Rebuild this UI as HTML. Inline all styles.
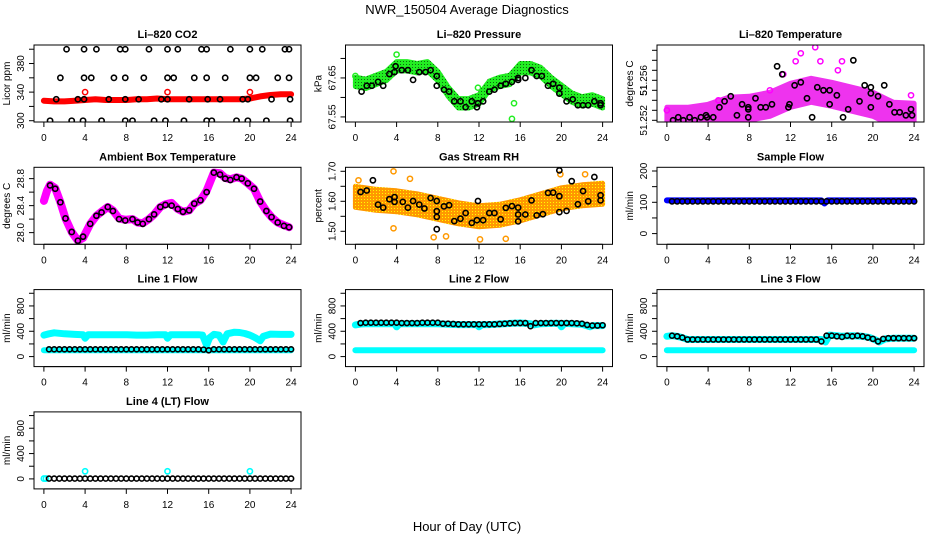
<!DOCTYPE html>
<html><head><meta charset="utf-8">
<style>
html,body{margin:0;padding:0;background:#fff;}
svg{display:block;font-family:"Liberation Sans",Arial,sans-serif;}
</style></head>
<body>
<svg id="chart" width="936" height="540" viewBox="0 0 936 540" xmlns="http://www.w3.org/2000/svg">
<defs>
<pattern id="rhpat" width="3" height="3" patternUnits="userSpaceOnUse"><rect width="3" height="3" fill="#ff9900"/><rect x="1" y="1" width="1" height="1" fill="#ffff00"/></pattern>
<pattern id="grpat" width="3" height="3" patternUnits="userSpaceOnUse"><rect width="3" height="3" fill="#22ee22"/><rect x="1" y="1" width="1" height="1" fill="#116611"/></pattern>
</defs>
<text x="467" y="14" font-size="13" text-anchor="middle">NWR_150504  Average Diagnostics</text>
<text x="467" y="531" font-size="13" text-anchor="middle">Hour of Day (UTC)</text>
</svg>
<script>
// ---- shared x data ----
const H48 = [0.5,1,1.5,2,2.5,3,3.5,4,4.5,5,5.5,6,6.5,7,7.5,8,8.5,9,9.5,10,10.5,11,11.5,12,12.5,13,13.5,14,14.5,15,15.5,16,16.5,17,17.5,18,18.5,19,19.5,20,20.5,21,21.5,22,22.5,23,23.5,24];
const xTicks = [0,4,8,12,16,20,24];

// ---- CO2 ----
const co2BandX = [0,1,2,3,4,5,6,7,8,9,10,11,12,13,14,15,16,17,18,19,20,21,22,23,24];
const co2BandY = [328,327,327,328,329,330,329,329,329,330,330,331,330,330,330,330,330,330,330,330,331,334,336,337,337];
const co2RedX = [4,12,20];
const co2RedY = [340,340,340];
const co2BlkX = [2.2,3.9,5.1,7.4,7.9,10.2,12,13,15.3,15.8,18.1,20,21.2,23.4,23.8, 1.6,3.9,4.6,6.8,7.9,9.7,12,12.6,14.6,15.8,17.6,20,20.6,22.7,23.8, 1.2,3.3,3.9,6.3,7.9,9.2,11.4,12,14.1,15.9,17.1,19.3,19.8,22.1,23.9, 0.6,2.7,3.8,5.6,7.9,8.6,10.7,11.8,13.6,15.8,16.3,18.7,19.8,21.6,23.9];
const co2BlkY = [400,400,400,400,400,400,400,400,400,400,400,400,400,400,400, 360,360,360,360,360,360,360,360,360,360,360,360,360,360,360, 330,330,330,330,330,330,330,330,330,330,330,330,330,330,330, 300,300,300,300,300,300,300,300,300,300,300,300,300,300,300];

// ---- Pressure ----
const prBandX = [0,1,2,3,4,5,6,7,8,9,10,11,12,13,14,15,16,17,18,19,20,21,22,23,24];
const prBandY = [67.64,67.635,67.645,67.655,67.68,67.68,67.675,67.68,67.655,67.615,67.585,67.585,67.595,67.63,67.64,67.645,67.675,67.675,67.665,67.64,67.62,67.6,67.59,67.595,67.585];
const prGrnX = [0,4,15.2,15.4,11.9];
const prGrnY = [67.655,67.71,67.545,67.585,67.625];
const prBlkX = [0.6,1.1,1.6,2.2,2.7,3.3,3.8,3.9,4.5,5.1,5.6,6.2,6.8,7.3,7.9,7.9,8.6,9.1,9.6,10.2,10.7,11.3,11.8,11.9,12.4,13,13.5,14.1,14.6,15.2,15.8,15.8,16.5,17.1,17.6,18.1,18.7,19.2,19.8,19.8,20.5,21.1,21.6,22.1,22.6,23.2,23.8,23.8];
const prBlkY = [67.615,67.63,67.63,67.64,67.63,67.66,67.665,67.68,67.67,67.67,67.645,67.665,67.665,67.67,67.655,67.63,67.62,67.615,67.59,67.59,67.575,67.59,67.575,67.585,67.59,67.615,67.62,67.63,67.635,67.64,67.645,67.65,67.65,67.67,67.655,67.655,67.63,67.635,67.625,67.61,67.59,67.595,67.58,67.58,67.58,67.59,67.585,67.58];

// ---- Li-820 temperature ----
const ltBandX = [0,2,4,6,8,10,12,14,16,18,20,22,24];
const ltBandY = [51.2521,51.2521,51.2524,51.2531,51.2532,51.2536,51.2545,51.2550,51.2546,51.2541,51.2536,51.2526,51.2525];
const ltMagX = [0,14.4,13,12.5,14.9,17,16.6,11.3,23.7,5,10];
const ltMagY = [51.2530,51.2593,51.2587,51.2579,51.2579,51.2579,51.2570,51.2566,51.2545,51.2540,51.2550];
const ltBlkX = [0.6,1.1,1.6,2.2,2.7,3.3,3.8,3.9,4.5,5.1,5.6,6.2,6.8,7.3,7.9,7.9,7.9,8.6,9.1,9.6,10.2,10.7,11.2,11.8,11.9,12.4,13,13.6,14.1,14.6,15.2,15.8,15.8,16.5,17.1,17.6,18.1,18.7,19.2,19.8,19.8,19.8,20.5,21.1,21.6,22.1,22.6,23.2,23.7,23.8];
const ltBlkY = [51.2520,51.2523,51.2520,51.2523,51.2520,51.2523,51.2525,51.2523,51.2523,51.2533,51.2539,51.2544,51.2525,51.2536,51.2533,51.2531,51.2523,51.2542,51.2533,51.2533,51.2536,51.2574,51.2566,51.2533,51.2536,51.2555,51.2558,51.2542,51.2523,51.2553,51.2550,51.2550,51.2536,51.2545,51.2523,51.2531,51.2580,51.2539,51.2555,51.2553,51.2547,51.2533,51.2544,51.2555,51.2536,51.2528,51.2528,51.2525,51.2531,51.2525];

// ---- Ambient box temperature ----
const amMagX = [0,0.3,0.6,1.1,1.6,2.1,2.7,3.3,3.8,4.5,5.1,5.6,6.2,6.7,7.3,7.9,8.6,9.1,9.6,10.2,10.7,11.3,11.8,12.4,13,13.5,14.1,14.6,15.2,15.8,16.5,17.1,17.6,18.1,18.7,19.2,19.8,20.4,21,21.6,22.1,22.7,23.3,23.8];
const amMagY = [28.47,28.62,28.71,28.66,28.45,28.21,28.01,27.88,27.92,28.13,28.25,28.31,28.38,28.33,28.21,28.19,28.20,28.15,28.14,28.20,28.27,28.38,28.42,28.44,28.35,28.31,28.33,28.43,28.48,28.62,28.89,28.88,28.81,28.79,28.82,28.80,28.73,28.65,28.46,28.32,28.23,28.15,28.11,28.08];
const amBlkX = [0.6,1.1,1.6,2.1,2.7,3.3,3.8,4.5,5.1,5.6,6.2,6.7,7.3,7.9,8.6,9.1,9.6,10.2,10.7,11.3,11.8,12.4,13,13.5,14.1,14.6,15.2,15.8,16.5,17.1,17.6,18.1,18.7,19.2,19.8,20.4,21,21.6,22.1,22.7,23.3,23.8];
const amBlkY = [28.70,28.65,28.45,28.21,28.01,27.88,27.94,28.13,28.25,28.30,28.38,28.32,28.20,28.18,28.20,28.15,28.13,28.20,28.27,28.38,28.41,28.40,28.35,28.31,28.33,28.43,28.48,28.60,28.89,28.86,28.80,28.78,28.82,28.80,28.73,28.65,28.46,28.32,28.23,28.15,28.10,28.08];

// ---- Gas stream RH ----
const rhBandX = [0,2,4,6,8,10,12,14,16,18,20,22,24];
const rhBandY = [1.615,1.605,1.600,1.590,1.575,1.560,1.550,1.555,1.570,1.590,1.610,1.620,1.625];
const rhOrX = [3.7,3.7,14.6,12.1,8.8,7.6,5.3,22.3,0.3,19.9];
const rhOrY = [1.700,1.510,1.475,1.473,1.483,1.480,1.675,1.690,1.670,1.690];
const rhBlkX = [0.5,1.1,1.7,2.2,2.7,3.3,3.8,3.8,4.6,5.1,5.6,6.2,6.7,7.3,7.9,7.9,7.9,7.9,8.6,9.1,9.6,10.2,10.7,11.3,11.8,11.9,12.4,13,13.5,14.1,14.6,15.2,15.8,15.8,15.8,16.5,17.1,17.6,18.2,18.7,19.2,19.8,19.8,19.8,20.5,21,21.6,22.1,22.6,23.2,23.8,23.8];
const rhBlkY = [1.631,1.636,1.670,1.589,1.579,1.607,1.614,1.598,1.598,1.579,1.601,1.589,1.576,1.611,1.601,1.567,1.548,1.507,1.583,1.587,1.534,1.542,1.561,1.528,1.537,1.601,1.537,1.561,1.561,1.540,1.578,1.584,1.579,1.556,1.533,1.556,1.603,1.553,1.557,1.628,1.629,1.617,1.703,1.564,1.568,1.667,1.590,1.634,1.600,1.681,1.620,1.603];

// ---- Sample flow ----
const sfBlueX = [0,15,15.3,15.6,24];
const sfBlueY = [106,106,96,106,106];
const sfBlkY = [103,103,103,103,103,103,103,103,103,103,103,103,103,103,103,103,103,103,103,103,103,103,103,103,103,103,103,103,103,103,103,103,103,103,103,103,103,103,103,103,103,103,103,103,103,103,103,103];

// ---- Line flows ----
const lowCyanX = [0,24];
const lowCyanY = [100,100];
const l1UpX = [0,0.5,1,2,3,3.8,4,4.3,5,6,7,8,9,10,11,11.8,12,12.3,13,14,15,15.4,15.8,16.1,16.5,17,17.4,17.8,18.5,19,19.5,20,20.5,21,21.3,22,23,24];
const l1UpY = [340,360,375,360,350,345,290,345,345,345,345,345,340,340,345,345,290,345,345,345,345,340,180,300,350,340,230,360,385,380,365,340,300,250,320,355,350,350];
const l1BlkY = [115,115,115,115,115,115,115,115,115,115,115,115,115,115,115,115,115,115,115,115,115,115,115,115,115,115,115,115,115,115,110,100,115,115,115,115,115,115,115,115,115,115,115,115,115,115,115,115];
const l2UpX = [0,0.5,1,2,3,3.8,4,4.3,5,6,7,8,9,10,11,11.8,12,12.3,13,14,15,16,17,17.3,18,19,19.8,20,20.3,21,22,22.8,23,24];
const l2UpY = [500,515,520,520,520,520,470,520,520,520,520,520,510,505,505,505,470,505,505,515,525,530,520,500,520,525,525,470,525,520,510,470,490,490];
const l2BlkY = [530,535,535,535,535,535,535,535,530,530,530,530,535,535,535,535,520,520,515,510,510,510,510,510,510,510,510,515,520,525,530,530,530,480,530,530,530,530,530,530,530,530,525,520,500,490,490,495];
const l3UpX = [0,0.5,1,1.5,2,4,6,8,10,12,14,15,15.4,15.8,16.5,17,18,19,19.7,20.3,20.6,21.2,22,23,24];
const l3UpY = [320,330,320,300,270,270,270,270,270,270,270,270,230,340,330,320,330,320,300,260,230,280,290,290,290];
const l3BlkY = [330,320,300,270,270,270,270,270,270,270,270,270,270,270,270,270,270,270,270,270,270,270,270,270,270,270,270,270,270,240,330,330,320,310,330,320,330,320,300,280,240,280,290,290,290,290,290,290];
const l4CyanX = [0,0.2,4,12,20];
const l4CyanY = [5,5,120,120,120];
const l4BlkY = [5,5,5,5,5,5,5,5,5,5,5,5,5,5,5,5,5,5,5,5,5,5,5,5,5,5,5,5,5,5,5,5,5,5,5,5,5,5,5,5,5,5,5,5,5,5,5,5];

// ---- panel axis configs ----
const flowTicks = [0,200,400,600,800,1000];
const flowLabels = ['0','','400','','800',''];
const panels = [
 {id:'co2',c:0,r:0,title:'Li\u2013820 CO2',ylab:'Licor ppm',ymin:298.2,ymax:405.9,ticks:[300,320,340,360,380,400],labels:['300','','340','','380','']},
 {id:'pressure',c:1,r:0,title:'Li\u2013820 Pressure',ylab:'kPa',ymin:67.537,ymax:67.7345,ticks:[67.55,67.60,67.65,67.70],labels:['67.55','','67.65','']},
 {id:'li-temp',c:2,r:0,title:'Li\u2013820 Temperature',ylab:'degrees C',ymin:51.25183,ymax:51.25953,ticks:[51.252,51.253,51.254,51.255,51.256,51.257,51.258,51.259],labels:['51.252','','','51','51.256','','','']},
 {id:'ambient',c:0,r:1,title:'Ambient Box Temperature',ylab:'degrees C',ymin:27.827,ymax:28.968,ticks:[28.0,28.2,28.4,28.6,28.8],labels:['28.0','','28.4','','28.8']},
 {id:'rh',c:1,r:1,title:'Gas Stream RH',ylab:'percent',ymin:1.4567,ymax:1.7133,ticks:[1.50,1.55,1.60,1.65,1.70],labels:['1.50','','1.60','','1.70']},
 {id:'sample',c:2,r:1,title:'Sample Flow',ylab:'ml/min',ymin:-34.2,ymax:211.8,ticks:[0,50,100,150,200],labels:['0','','100','','200']},
 {id:'line1',c:0,r:2,title:'Line 1 Flow',ylab:'ml/min',ymin:-158,ymax:1058,ticks:flowTicks,labels:flowLabels},
 {id:'line2',c:1,r:2,title:'Line 2 Flow',ylab:'ml/min',ymin:-158,ymax:1058,ticks:flowTicks,labels:flowLabels},
 {id:'line3',c:2,r:2,title:'Line 3 Flow',ylab:'ml/min',ymin:-158,ymax:1058,ticks:flowTicks,labels:flowLabels},
 {id:'line4',c:0,r:3,title:'Line 4 (LT) Flow',ylab:'ml/min',ymin:-158,ymax:1058,ticks:flowTicks,labels:flowLabels}
];

const NS='http://www.w3.org/2000/svg';
const svg=document.getElementById('chart');
const BW=267, BH=77;
function mk(tag,attrs,parent){const e=document.createElementNS(NS,tag);for(const k in attrs)e.setAttribute(k,attrs[k]);(parent||svg).appendChild(e);return e;}
function geom(p){const L=34+p.c*311.5, T=45+p.r*122.3;return {L,T,
  X:h=>L+BW*(h+0.96)/25.92, Y:v=>T+BH*(p.ymax-v)/(p.ymax-p.ymin)};}

const G={};
panels.forEach(p=>{
  const g=geom(p); G[p.id]=g;
  const grp=mk('g',{});
  
  
  g.grp=grp;
  const clip=mk('clipPath',{id:'clip-'+p.id},grp);
  mk('rect',{x:g.L,y:g.T,width:BW,height:BH},clip);
  g.plot=mk('g',{'clip-path':'url(#clip-'+p.id+')'},grp);
  const box=mk('rect',{x:g.L,y:g.T,width:BW,height:BH,fill:'none',stroke:'#000','stroke-width':1},grp);
  
  
  const t=mk('text',{x:g.L+BW/2,y:g.T-7,'font-size':11,'font-weight':'bold','text-anchor':'middle'},grp);
  t.textContent=p.title;
  
  
  const yb=g.T+BH;
  mk('line',{x1:g.X(0),x2:g.X(24),y1:yb,y2:yb,stroke:'#000'},grp);
  xTicks.forEach(h=>{
    mk('line',{x1:g.X(h),x2:g.X(h),y1:yb,y2:yb+5,stroke:'#000'},grp);
    const tl=mk('text',{x:g.X(h),y:yb+19,'font-size':10,'text-anchor':'middle'},grp);
    tl.textContent=String(h);
    
    
  });
  p.ticks.forEach((v,i)=>{
    const y=g.Y(v);
    mk('line',{x1:g.L-5,x2:g.L,y1:y,y2:y,stroke:'#000'},grp);
    if(p.labels[i]){
      const tl=mk('text',{x:0,y:0,'font-size':10,'text-anchor':'middle',transform:`translate(${g.L-10},${y}) rotate(-90)`},grp);
      tl.textContent=p.labels[i];
      
      
    }
  });
  const yl=mk('text',{x:0,y:0,'font-size':10,'text-anchor':'middle',transform:`translate(${g.L-24},${g.T+BH/2}) rotate(-90)`},grp);
  yl.textContent=p.ylab;
  
  
});

function line(id,xs,ys,color,w,name){const g=G[id];const n=Math.min(xs.length,ys.length);
  let d='';for(let i=0;i<n;i++)d+=(i?'L':'M')+g.X(xs[i]).toFixed(1)+','+g.Y(ys[i]).toFixed(1);
  const e=mk('path',{d,fill:'none',stroke:color,'stroke-width':w,'stroke-linejoin':'round','stroke-linecap':'round'},g.plot);
  
  }
function band(id,xs,ys,half,fill,name){const g=G[id];const n=Math.min(xs.length,ys.length);
  let up=[],lo=[];for(let i=0;i<n;i++){up.push(g.X(xs[i]).toFixed(1)+','+g.Y(ys[i]+half).toFixed(1));lo.unshift(g.X(xs[i]).toFixed(1)+','+g.Y(ys[i]-half).toFixed(1));}
  const e=mk('polygon',{points:up.concat(lo).join(' '),fill:fill,stroke:fill,'stroke-width':5,'stroke-linejoin':'round'},g.plot);
  
  }
function pts(id,xs,ys,color,r,sw,name){const g=G[id];const n=Math.min(xs.length,ys.length);
  const grp=mk('g',{},g.plot);
  
  
  for(let i=0;i<n;i++){const c=mk('circle',{cx:g.X(xs[i]),cy:g.Y(ys[i]),r:r,fill:'none',stroke:color,'stroke-width':sw},grp);
    
    }}

line('co2',co2BandX,co2BandY,'#ff0000',6,'co2-red-band');
pts('co2',co2RedX,co2RedY,'#ff0000',2.6,1.5,'co2-red-points');
pts('co2',co2BlkX,co2BlkY,'#000',2.6,1.6,'co2-black-points');
band('pressure',prBandX,prBandY,0.012,'url(#grpat)','pressure-green-band');
pts('pressure',prGrnX,prGrnY,'#22ee22',2.6,1.5,'pressure-green-points');
pts('pressure',prBlkX,prBlkY,'#000',2.6,1.6,'pressure-black-points');
band('li-temp',ltBandX,ltBandY,0.0012,'#ee33ee','li-temp-magenta-cloud');
pts('li-temp',ltMagX,ltMagY,'#ff00ff',2.6,1.5,'li-temp-magenta-points');
pts('li-temp',ltBlkX,ltBlkY,'#000',2.6,1.6,'li-temp-black-points');
line('ambient',amMagX,amMagY,'#ff00ff',8,'ambient-magenta-band');
pts('ambient',amBlkX,amBlkY,'#000',2.6,1.6,'ambient-black-points');
band('rh',rhBandX,rhBandY,0.035,'url(#rhpat)','rh-orange-cloud');
pts('rh',rhOrX,rhOrY,'#ff9900',2.6,1.5,'rh-orange-points');
pts('rh',rhBlkX,rhBlkY,'#000',2.6,1.6,'rh-black-points');
line('sample',sfBlueX,sfBlueY,'#0000ff',6,'sample-blue-line');
pts('sample',H48,sfBlkY,'#000',2.6,1.6,'sample-black-points');
line('line1',lowCyanX,lowCyanY,'#00ffff',6,'line1-low-cyan');
line('line1',l1UpX,l1UpY,'#00ffff',7,'line1-high-cyan');
pts('line1',H48,l1BlkY,'#000',2.5,1.6,'line1-black-points');
line('line2',lowCyanX,lowCyanY,'#00ffff',6,'line2-low-cyan');
line('line2',l2UpX,l2UpY,'#00ffff',7,'line2-high-cyan');
pts('line2',H48,l2BlkY,'#000',2.5,1.6,'line2-black-points');
line('line3',lowCyanX,lowCyanY,'#00ffff',6,'line3-low-cyan');
line('line3',l3UpX,l3UpY,'#00ffff',7,'line3-high-cyan');
pts('line3',H48,l3BlkY,'#000',2.5,1.6,'line3-black-points');
pts('line4',l4CyanX,l4CyanY,'#00ffff',2.6,1.6,'line4-cyan-points');
pts('line4',H48,l4BlkY,'#000',2.5,1.6,'line4-black-points');
</script>
</body></html>
